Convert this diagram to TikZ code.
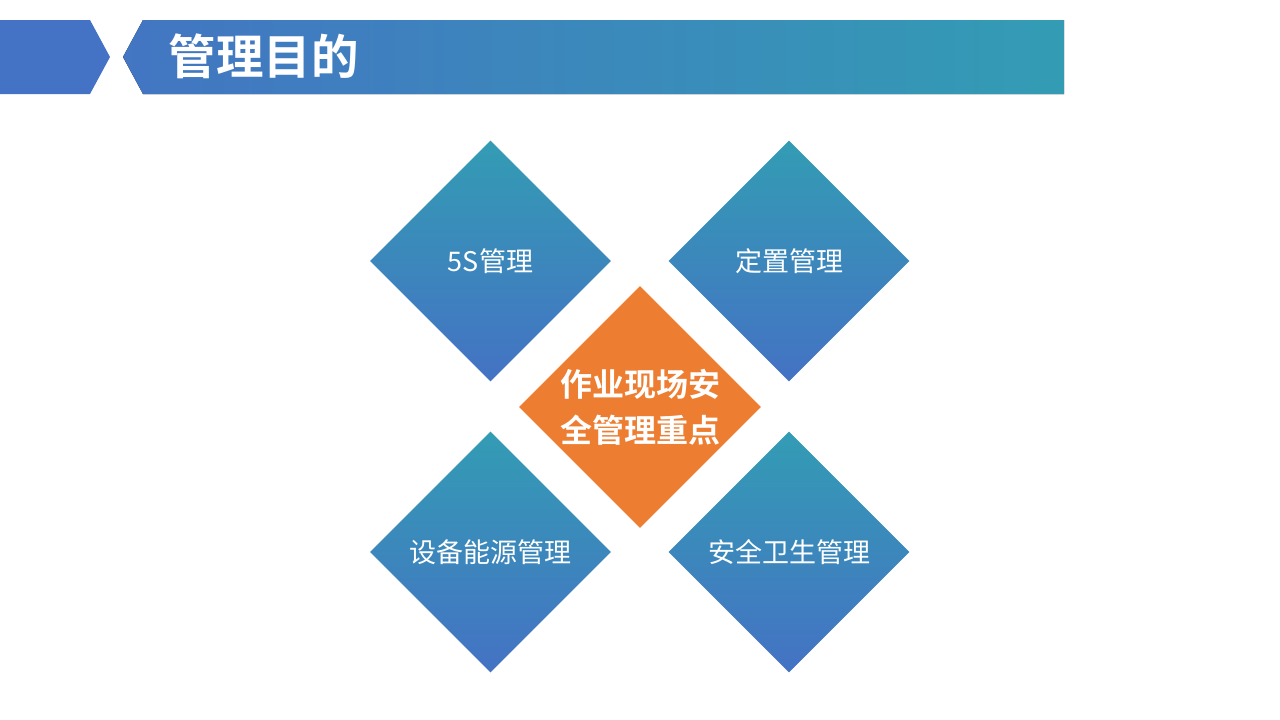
\documentclass[tikz,border=0pt]{standalone}
\usepackage{fontspec}
\newfontfamily\cjk{Noto Sans CJK SC}[BoldFont={Noto Sans CJK SC Bold}]
\usetikzlibrary{shapes.geometric}
\definecolor{hdblue}{HTML}{4472C4}
\definecolor{hdteal}{HTML}{339CB4}
\definecolor{ctrorange}{HTML}{ED7D31}
\tikzset{
  gem/.style={diamond, aspect=1, inner sep=0pt, minimum size=241pt,
    top color=hdteal, bottom color=hdblue, text=white,
    font=\cjk\fontsize{27}{32}\selectfont},
  ctrgem/.style={diamond, aspect=1, inner sep=0pt, minimum size=242pt,
    fill=ctrorange, text=white, align=center,
    font=\cjk\bfseries\fontsize{32}{46}\selectfont}
}
\begin{document}
\begin{tikzpicture}[x=1pt,y=-1pt]
\useasboundingbox (0,0) rectangle (1280,720);
\fill[white] (0,0) rectangle (1280,720);
%header
\fill[hdblue] (0,20)--(90,20)--(110,57)--(90,94)--(0,94)--cycle;
\fill[left color=hdblue!92!hdteal, right color=hdteal] (143,20)--(1064,20)--(1064,94)--(143,94)--(123,57)--cycle;
\node[anchor=west, text=white, font=\cjk\bfseries\fontsize{47.5}{50}\selectfont] (title) at (165,56) {管理目的};
%diamonds
\node[gem] (fives) at (490.5,261) {5S管理};
\node[gem] (place) at (789,261) {定置管理};
\node[gem] (equip) at (490.5,552) {设备能源管理};
\node[gem] (health) at (789,552) {安全卫生管理};
\node[ctrgem] (focus) at (640,407) {\raisebox{-3pt}{作业现场安}\\\raisebox{-3pt}{全管理重点}};
\end{tikzpicture}
\end{document}
